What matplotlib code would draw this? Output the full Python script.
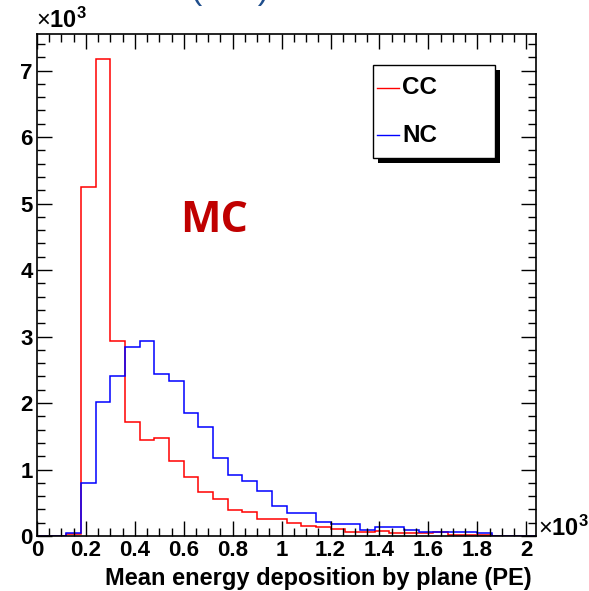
import numpy as np
import matplotlib
matplotlib.use("Agg")
import matplotlib.pyplot as plt
from matplotlib.patches import Rectangle
from matplotlib.lines import Line2D
from matplotlib.ticker import MultipleLocator, FuncFormatter

# Histogram binning (x in units of 10^3 PE)
bin_width = 0.06
n_bins = 34
edges = np.arange(n_bins + 1) * bin_width

# Entries per bin (units of 10^3)
cc_counts = [0, 0, 0.03, 5.25, 7.17, 2.93, 1.71, 1.45, 1.48, 1.13,
             0.89, 0.66, 0.555, 0.39, 0.355, 0.25, 0.25, 0.19, 0.155, 0.13,
             0.105, 0.065, 0.065, 0.07, 0.05, 0.05, 0.04, 0.06, 0.015, 0.015,
             0.015, 0, 0, 0]
nc_counts = [0, 0, 0.05, 0.80, 2.01, 2.41, 2.84, 2.94, 2.43, 2.33,
             1.85, 1.64, 1.17, 0.91, 0.83, 0.67, 0.45, 0.35, 0.35, 0.21,
             0.175, 0.175, 0.085, 0.13, 0.13, 0.09, 0.065, 0.065, 0.065, 0.065,
             0.05, 0.005, 0, 0]

series_labels = ["CC", "NC"]
series_colors = ["#ff0000", "#0000ff"]
x_title = "Mean energy deposition by plane (PE)"
tag_text = "MC"

plt.rcParams["font.family"] = ["Liberation Sans", "DejaVu Sans"]
plt.rcParams["mathtext.fontset"] = "custom"
plt.rcParams["mathtext.rm"] = "Liberation Sans"
plt.rcParams["mathtext.bf"] = "Liberation Sans:bold"

W, H = 589, 591
fig = plt.figure(figsize=(W / 100, H / 100), dpi=100)
ax_l, ax_r, ax_t, ax_b = 37, 536, 34, 536
ax = fig.add_axes([ax_l / W, 1 - ax_b / H, (ax_r - ax_l) / W, (ax_b - ax_t) / H])

for counts, col in zip([cc_counts, nc_counts], series_colors):
    ax.stairs(counts, edges, color=col, lw=1.1, baseline=0)

ax.set_xlim(0, edges[-1])
ax.set_ylim(0, 7.55)

ax.xaxis.set_major_locator(MultipleLocator(0.2))
ax.xaxis.set_minor_locator(MultipleLocator(0.05))
ax.yaxis.set_major_locator(MultipleLocator(1))
ax.yaxis.set_minor_locator(MultipleLocator(0.2))
ax.xaxis.set_major_formatter(FuncFormatter(lambda v, p: f"{v:g}"))
ax.yaxis.set_major_formatter(FuncFormatter(lambda v, p: f"{v:g}"))

ax.tick_params(which="both", direction="in", top=True, right=True, width=1.0)
ax.tick_params(which="major", length=11, labelsize=16, pad=3)
ax.tick_params(which="minor", length=6)
for lab in ax.get_xticklabels() + ax.get_yticklabels():
    lab.set_fontweight("bold")
for s in ax.spines.values():
    s.set_linewidth(1.2)

# exponent labels
fig.text(36 / W, 1 - 28 / H, r"$\times\mathbf{10^{3}}$", fontsize=17,
         ha="left", va="baseline")
fig.text(538 / W, 1 - 536 / H, r"$\times\mathbf{10^{3}}$", fontsize=17,
         ha="left", va="baseline")

# axis title
fig.text(532 / W, 1 - 578 / H, x_title, fontsize=17, fontweight="bold",
         ha="right", va="center")

# legend box with drop shadow
def axfrac_x(px):
    return (px - ax_l) / (ax_r - ax_l)

def axfrac_y(py):
    return (ax_b - py) / (ax_b - ax_t)

bx0, bx1, by0, by1 = 373, 495, 65, 158
shadow = Rectangle((axfrac_x(bx0 + 5), axfrac_y(by1 + 5)),
                   axfrac_x(bx1) - axfrac_x(bx0), axfrac_y(by0) - axfrac_y(by1),
                   transform=ax.transAxes, facecolor="black", edgecolor="none", zorder=5)
box = Rectangle((axfrac_x(bx0), axfrac_y(by1)),
                axfrac_x(bx1) - axfrac_x(bx0), axfrac_y(by0) - axfrac_y(by1),
                transform=ax.transAxes, facecolor="white", edgecolor="black",
                lw=1.0, zorder=6)
ax.add_patch(shadow)
ax.add_patch(box)
for lab, col, py in zip(series_labels, series_colors, [88, 135]):
    ax.add_line(Line2D([axfrac_x(377), axfrac_x(399)], [axfrac_y(py)] * 2,
                       transform=ax.transAxes, color=col, lw=1.0, zorder=7))
    ax.text(axfrac_x(402), axfrac_y(py), lab, transform=ax.transAxes,
            fontsize=17.5, fontweight="bold", ha="left", va="center", zorder=7)

# sample tag
ax.text(axfrac_x(214), axfrac_y(221), tag_text, transform=ax.transAxes,
        fontsize=31, fontweight="bold", color="#c00000", family=["Open Sans", "DejaVu Sans"],
        ha="center", va="center")

# heading fragment at the very top
fig.text(230 / W, 1 - 6 / H, "(      )", fontsize=24, color="#1f4e8c",
         ha="center", va="bottom")

fig.savefig("out.png", dpi=100)
